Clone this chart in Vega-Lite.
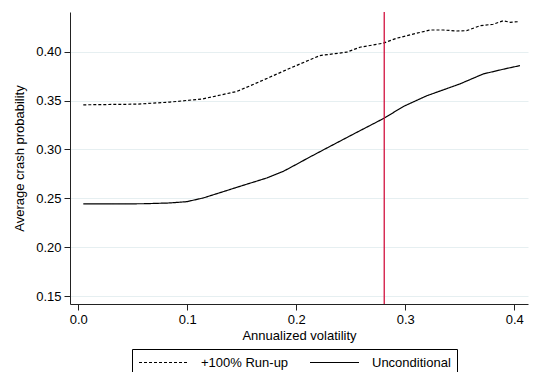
{
  "$schema": "https://vega.github.io/schema/vega-lite/v6.json",
  "width": 458,
  "height": 292,
  "autosize": "none",
  "padding": {"left": 70, "top": 12, "right": 5, "bottom": 68},
  "background": "white",
  "config": {
    "view": {"stroke": null},
    "font": "Liberation Sans",
    "axis": {
      "domainColor": "#222",
      "tickColor": "#222",
      "labelColor": "#000",
      "titleColor": "#000",
      "labelFont": "Liberation Sans",
      "titleFont": "Liberation Sans",
      "labelFontSize": 13,
      "titleFontSize": 13,
      "titleFontWeight": "normal",
      "tickSize": 6
    },
    "legend": {
      "labelFont": "Liberation Sans",
      "labelFontSize": 13,
      "labelColor": "#000"
    }
  },
  "datasets": {
    "curves": [
      {"vol": 0.0046, "prob": 0.2443, "series": "Unconditional"},
      {"vol": 0.03, "prob": 0.2443, "series": "Unconditional"},
      {"vol": 0.06, "prob": 0.2445, "series": "Unconditional"},
      {"vol": 0.0841, "prob": 0.2453, "series": "Unconditional"},
      {"vol": 0.0995, "prob": 0.2466, "series": "Unconditional"},
      {"vol": 0.1147, "prob": 0.2504, "series": "Unconditional"},
      {"vol": 0.1453, "prob": 0.2612, "series": "Unconditional"},
      {"vol": 0.1728, "prob": 0.2708, "series": "Unconditional"},
      {"vol": 0.1881, "prob": 0.2776, "series": "Unconditional"},
      {"vol": 0.2034, "prob": 0.2867, "series": "Unconditional"},
      {"vol": 0.2095, "prob": 0.2905, "series": "Unconditional"},
      {"vol": 0.2309, "prob": 0.3031, "series": "Unconditional"},
      {"vol": 0.2554, "prob": 0.3174, "series": "Unconditional"},
      {"vol": 0.2807, "prob": 0.332, "series": "Unconditional"},
      {"vol": 0.2982, "prob": 0.3439, "series": "Unconditional"},
      {"vol": 0.3196, "prob": 0.3548, "series": "Unconditional"},
      {"vol": 0.3502, "prob": 0.367, "series": "Unconditional"},
      {"vol": 0.3716, "prob": 0.3772, "series": "Unconditional"},
      {"vol": 0.3899, "prob": 0.382, "series": "Unconditional"},
      {"vol": 0.4052, "prob": 0.3857, "series": "Unconditional"},
      {"vol": 0.0046, "prob": 0.3456, "series": "+100% Run-up"},
      {"vol": 0.0536, "prob": 0.3463, "series": "+100% Run-up"},
      {"vol": 0.0841, "prob": 0.3484, "series": "+100% Run-up"},
      {"vol": 0.1144, "prob": 0.3517, "series": "+100% Run-up"},
      {"vol": 0.1453, "prob": 0.3592, "series": "+100% Run-up"},
      {"vol": 0.1575, "prob": 0.365, "series": "+100% Run-up"},
      {"vol": 0.176, "prob": 0.374, "series": "+100% Run-up"},
      {"vol": 0.1942, "prob": 0.383, "series": "+100% Run-up"},
      {"vol": 0.2217, "prob": 0.396, "series": "+100% Run-up"},
      {"vol": 0.2462, "prob": 0.3994, "series": "+100% Run-up"},
      {"vol": 0.2584, "prob": 0.4045, "series": "+100% Run-up"},
      {"vol": 0.2798, "prob": 0.4086, "series": "+100% Run-up"},
      {"vol": 0.2921, "prob": 0.4137, "series": "+100% Run-up"},
      {"vol": 0.3105, "prob": 0.4188, "series": "+100% Run-up"},
      {"vol": 0.3227, "prob": 0.4221, "series": "+100% Run-up"},
      {"vol": 0.3349, "prob": 0.4221, "series": "+100% Run-up"},
      {"vol": 0.3472, "prob": 0.4211, "series": "+100% Run-up"},
      {"vol": 0.3563, "prob": 0.4214, "series": "+100% Run-up"},
      {"vol": 0.3686, "prob": 0.4265, "series": "+100% Run-up"},
      {"vol": 0.3807, "prob": 0.428, "series": "+100% Run-up"},
      {"vol": 0.3899, "prob": 0.4316, "series": "+100% Run-up"},
      {"vol": 0.3961, "prob": 0.430, "series": "+100% Run-up"},
      {"vol": 0.4037, "prob": 0.4306, "series": "+100% Run-up"}
    ],
    "marker": [{"vol": 0.2807}]
  },
  "layer": [
    {
      "data": {"name": "curves"},
      "mark": {"type": "line", "color": "#000", "strokeWidth": 1.2},
      "encoding": {
        "x": {
          "field": "vol", "type": "quantitative",
          "scale": {"domain": [-0.0076, 0.4126], "nice": false, "zero": false},
          "axis": {"title": "Annualized volatility", "values": [0, 0.1, 0.2, 0.3, 0.4], "format": ".1f", "grid": false, "labelPadding": 3, "titlePadding": 3}
        },
        "y": {
          "field": "prob", "type": "quantitative",
          "scale": {"domain": [0.142, 0.4405], "nice": false, "zero": false},
          "axis": {"title": "Average crash probability", "values": [0.15, 0.2, 0.25, 0.3, 0.35, 0.4], "format": ".2f", "grid": true, "gridColor": "#e6eff1", "gridWidth": 1, "labelPadding": 3, "titlePadding": 9}
        },
        "strokeDash": {
          "field": "series", "type": "nominal",
          "scale": {"domain": ["+100% Run-up", "Unconditional"], "range": [[3, 2], [1, 0]]},
          "legend": {
            "title": null,
            "orient": "none",
            "legendX": 62,
            "legendY": 337,
            "direction": "horizontal",
            "strokeColor": "#000",
            "fillColor": "white",
            "padding": 6,
            "cornerRadius": 0,
            "symbolType": "stroke",
            "symbolSize": 2401,
            "clipHeight": 15,
            "symbolStrokeColor": "#000",
            "symbolStrokeWidth": 1.2,
            "labelOffset": 12,
            "columnPadding": 20
          }
        }
      }
    },
    {
      "data": {"name": "marker"},
      "mark": {"type": "rule", "color": "#d2123f", "strokeWidth": 1.3},
      "encoding": {"x": {"field": "vol", "type": "quantitative"}}
    }
  ]
}
